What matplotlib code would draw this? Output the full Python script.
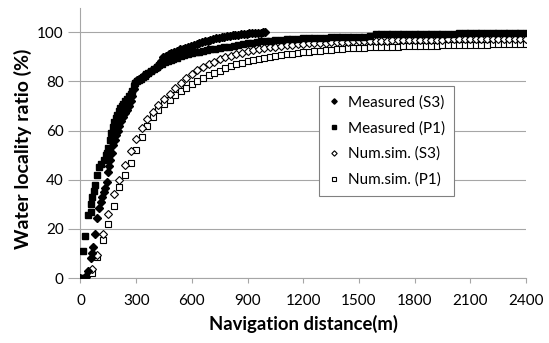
import numpy as np
import matplotlib
matplotlib.use("Agg")
import matplotlib.pyplot as plt

plt.rcParams['font.family'] = ['Lato', 'DejaVu Sans']

# Measured (S3) - filled diamonds
meas_s3_x = [0, 27, 43, 54, 62, 70, 80, 91, 102, 110, 118, 126, 134, 145, 150, 155,
             161, 168, 176, 184, 192, 200, 210, 220, 230, 240, 250, 260, 270, 280,
             290, 296, 305, 315, 325, 335, 345, 355, 365, 375, 385, 395, 405, 415,
             425, 435, 446, 460, 475, 490, 505, 520, 535, 550, 565, 580, 595, 610,
             625, 640, 655, 670, 685, 700, 715, 730, 745, 760, 775, 790, 805, 820,
             835, 850, 865, 880, 895, 910, 925, 940, 955, 970, 985, 995]
meas_s3_y = [0, 0.5, 3, 8, 10, 12.6, 18, 24.5, 28.5, 31, 33, 35, 36.5, 39, 43, 45.5,
             48, 51, 54, 56, 58, 60, 62, 64, 65.5, 67, 68.5, 70, 72, 74,
             77, 79.5, 80.5, 81, 81.5, 82, 82.5, 83, 83.5, 84, 84.5, 85, 85.5, 86,
             87, 88.5, 90, 90.5, 91, 91.5, 92, 92.5, 93, 93.3, 93.7, 94, 94.5, 95,
             95.3, 95.6, 96, 96.3, 96.6, 97, 97.3, 97.5, 97.8, 98, 98.2, 98.5, 98.6, 98.8,
             99, 99, 99.2, 99.3, 99.4, 99.5, 99.6, 99.7, 99.8, 99.9, 100, 100]

# Measured (P1) - filled squares
meas_p1_x = [0, 5, 11, 27, 43, 54, 59, 64, 72, 80, 91, 102, 113, 124, 135, 145, 150,
             158, 166, 174, 182, 190, 198, 206, 214, 222, 230, 240, 250, 260, 270,
             280, 290, 296, 305, 315, 325, 335, 345, 355, 365, 380, 395, 410, 425,
             440, 455, 470, 485, 500, 520, 540, 560, 580, 600, 620, 640, 660, 680,
             700, 725, 750, 775, 800, 825, 850, 875, 900, 925, 950, 975, 1000]
meas_p1_y = [0, 0, 11, 17, 25.7, 27, 30, 33, 35.5, 38, 42, 45, 46.5, 48, 50, 51, 53,
             56, 59, 61.5, 63.5, 65, 66.5, 68, 69, 70, 71, 72, 73, 74, 75,
             76, 78, 79.5, 80, 80.5, 81, 81.7, 82.3, 83, 83.6, 84.4, 85.2, 86, 86.6,
             87.2, 87.8, 88.3, 88.8, 89.2, 89.7, 90.2, 90.6, 91, 91.4, 91.8, 92.1, 92.4, 92.7,
             93, 93.3, 93.6, 93.9, 94.2, 94.6, 94.9, 95.2, 95.5, 95.8, 96, 96.3, 96.5]
meas_p1_tail_x = list(range(1020, 2401, 30))
meas_p1_tail_y = [96.6, 96.8, 96.9, 97.1, 97.2, 97.4, 97.5, 97.6, 97.7, 97.7, 97.8,
                  97.9, 97.9, 98, 98, 98.1, 98.1, 98.2, 98.3,
                  99.2, 99.2, 99.2, 99.3, 99.3, 99.3, 99.3, 99.3, 99.4, 99.4, 99.4,
                  99.4, 99.4, 99.4, 99.4, 99.5, 99.5, 99.5, 99.5, 99.7, 99.5, 99.5,
                  99.5, 99.5, 99.6, 99.6, 99.6, 99.6]

# Numerical simulation, sampled every 30 m
sim_x = list(range(30, 2401, 30))
sim_s3_y = [0.5, 3.5, 9.5, 18, 26, 34, 40, 46, 51.5, 56.5, 61, 64.5, 67.5, 70.5, 73,
            75, 77.3, 79.3, 81.2, 83, 84.5, 85.9, 87.1, 88.1, 89, 89.8, 90.5, 91.1,
            91.7, 92.2, 92.6, 93, 93.4, 93.8, 94.1, 94.4, 94.7, 95, 95.2, 95.4,
            95.5, 95.6, 95.7, 95.8, 95.9, 96, 96.1, 96.2, 96.3, 96.3, 96.4, 96.5,
            96.5, 96.6, 96.6, 96.7, 96.7, 96.8, 96.8, 96.9, 96.9, 96.9, 97, 97, 97,
            97.1, 97.1, 97.1, 97.2, 97.2, 97.2, 97.2, 97.3, 97.3, 97.3, 97.3, 97.4,
            97.4, 97.4, 97.4]
sim_p1_y = [0, 2, 8.5, 15.5, 22, 29.5, 37, 42, 47, 52, 57.5, 62, 65.5, 68.5, 70.8,
            72.5, 74.3, 76, 77.5, 78.8, 80.1, 81.3, 82.5, 83.5, 84.4, 85.3, 86.1,
            86.9, 87.6, 88.2, 88.8, 89.3, 89.7, 90, 90.3, 90.7, 91, 91.3, 91.6, 91.9,
            92.1, 92.3, 92.5, 92.7, 92.9, 93.1, 93.2, 93.4, 93.5, 93.6, 93.7, 93.8,
            93.9, 94, 94, 94.1, 94.2, 94.3, 94.3, 94.4, 94.5, 94.5, 94.6, 94.6, 94.7,
            94.7, 94.8, 94.8, 94.9, 94.9, 95, 95, 95, 95.1, 95.1, 95.1, 95.2, 95.2,
            95.2, 95.3]

x_ticks = [0, 300, 600, 900, 1200, 1500, 1800, 2100, 2400]
y_ticks = [0, 20, 40, 60, 80, 100]

fig = plt.figure(figsize=(5.49, 3.43), dpi=100)
ax = fig.add_axes([0.1466, 0.1895, 0.8115, 0.7881])

grey = '#a6a6a6'
ax.plot(sim_x, sim_p1_y, 's', ms=4.6, mfc='white', mec='black', mew=0.8,
        label='Num.sim. (P1)', zorder=3)
ax.plot(sim_x, sim_s3_y, 'D', ms=4.2, mfc='white', mec='black', mew=0.8,
        label='Num.sim. (S3)', zorder=3)
ax.plot(meas_p1_x + meas_p1_tail_x, meas_p1_y + meas_p1_tail_y, 's', ms=4.6,
        color='black', label='Measured (P1)', zorder=4)
ax.plot(meas_s3_x, meas_s3_y, 'D', ms=4.2, color='black',
        label='Measured (S3)', zorder=5)

ax.set_xlim(0, 2400)
ax.set_ylim(0, 110)
ax.set_xticks(x_ticks)
ax.set_yticks(y_ticks)
ax.tick_params(axis='both', labelsize=11, color=grey, width=0.8)
ax.tick_params(axis='x', length=3.6, pad=8)
ax.tick_params(axis='y', length=8.5, pad=3.5)
ax.grid(axis='y', color=grey, lw=0.8)
ax.set_axisbelow(True)
for side in ['top', 'right']:
    ax.spines[side].set_visible(False)
for side in ['left', 'bottom']:
    ax.spines[side].set_color(grey)
    ax.spines[side].set_linewidth(0.8)

ax.set_xlabel('Navigation distance(m)', fontsize=13.3, fontweight='bold', labelpad=5)
ax.set_ylabel('Water locality ratio (%)', fontsize=14, fontweight='bold')
ax.yaxis.set_label_coords(-0.109, 0.477)

handles, labels = ax.get_legend_handles_labels()
order = [3, 2, 1, 0]
leg = ax.legend([handles[i] for i in order], [labels[i] for i in order],
                loc='upper left', bbox_to_anchor=(0.581, 0.749),
                bbox_transform=fig.transFigure, borderaxespad=0,
                fontsize=11, markerscale=0.65, handlelength=0.8, handletextpad=0.5,
                labelspacing=0.75, borderpad=0.6, fancybox=False, framealpha=1)
leg.get_frame().set_edgecolor('#808080')
leg.get_frame().set_linewidth(0.8)

fig.savefig('out.png', dpi=100)
